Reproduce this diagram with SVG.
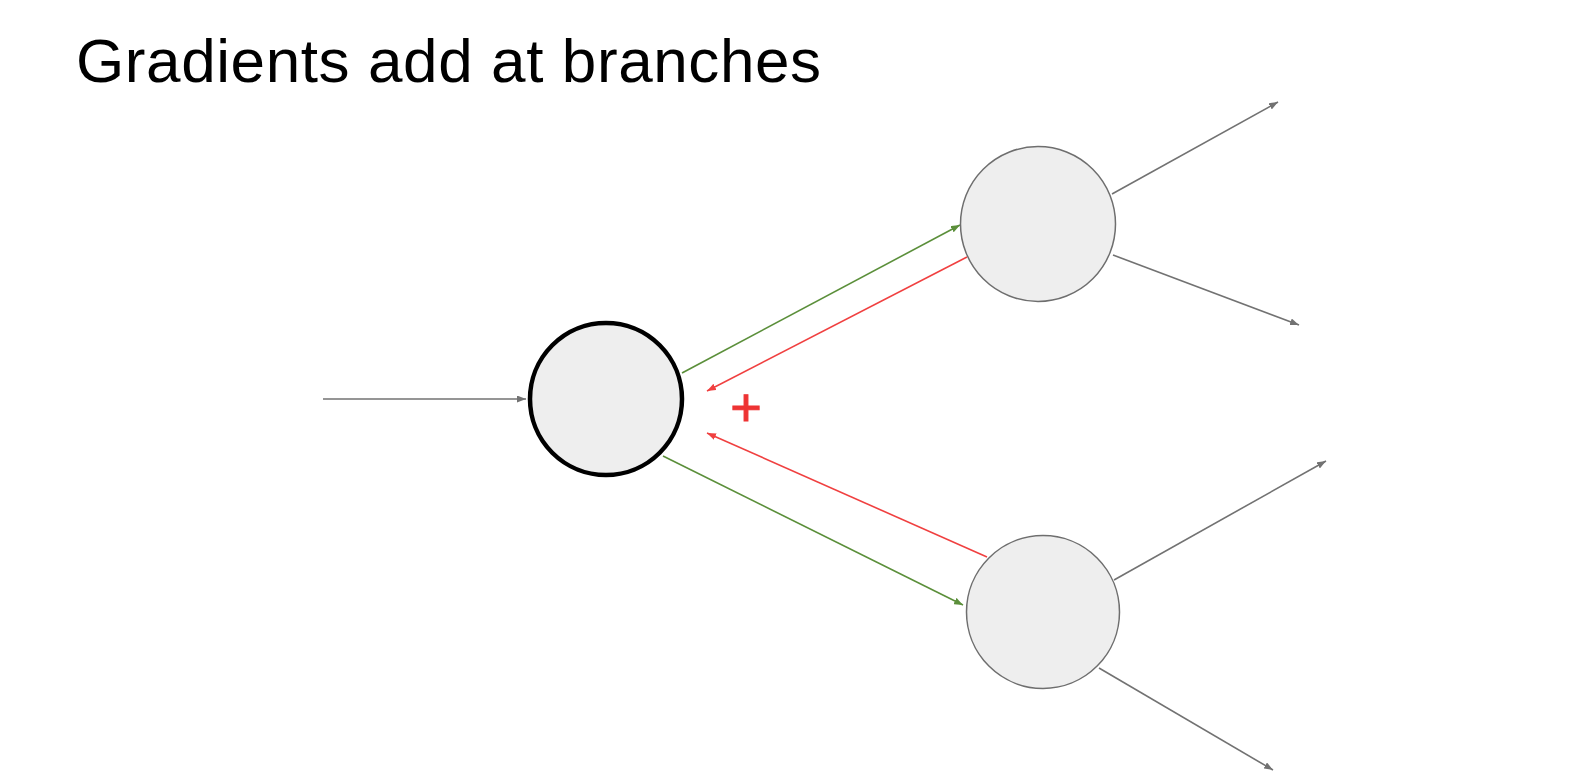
<svg xmlns="http://www.w3.org/2000/svg" width="1580" height="784" viewBox="0 0 1580 784">
  <style>
    .title { font-family: "Liberation Sans", Arial, sans-serif; font-size: 62px; letter-spacing: 0.6px; fill: #000; }
    .plus { font-family: "Liberation Sans", Arial, sans-serif; font-size: 54px; fill: #ee3333; stroke: #ee3333; stroke-width: 1; }
    .node { fill: #eeeeee; stroke: #6e6e6e; stroke-width: 1.5; }
    .node.main { stroke: #000; stroke-width: 4.5; }
    .edge { fill: none; stroke-width: 1.6; }
    .gray { stroke: #727272; }
    .green { stroke: #5b8f3a; }
    .red { stroke: #f04040; }
  </style>
  <defs>
    <marker id="ah-gray" markerWidth="9" markerHeight="7" refX="9" refY="3.5" orient="auto" markerUnits="userSpaceOnUse">
      <path d="M0,0 L9,3.5 L0,7 z" fill="#727272"/>
    </marker>
    <marker id="ah-green" markerWidth="9" markerHeight="7" refX="9" refY="3.5" orient="auto" markerUnits="userSpaceOnUse">
      <path d="M0,0 L9,3.5 L0,7 z" fill="#5b8f3a"/>
    </marker>
    <marker id="ah-red" markerWidth="9" markerHeight="7" refX="9" refY="3.5" orient="auto" markerUnits="userSpaceOnUse">
      <path d="M0,0 L9,3.5 L0,7 z" fill="#f04040"/>
    </marker>
  </defs>

  <rect width="1580" height="784" fill="#ffffff"/>

  <text class="title" x="76" y="82">Gradients add at branches</text>

  <g id="connectors">
    <!-- input into the branching node -->
    <line class="edge gray" x1="323" y1="399" x2="526" y2="399" marker-end="url(#ah-gray)"/>
    <!-- forward pass (green) -->
    <line class="edge green" x1="682" y1="373" x2="960" y2="225" marker-end="url(#ah-green)"/>
    <line class="edge green" x1="663" y1="456" x2="963" y2="605" marker-end="url(#ah-green)"/>
    <!-- backward pass (red) -->
    <line class="edge red" x1="967" y1="257" x2="707" y2="391" marker-end="url(#ah-red)"/>
    <line class="edge red" x1="987" y1="557" x2="707" y2="433" marker-end="url(#ah-red)"/>
    <!-- outgoing edges of the upper node -->
    <line class="edge gray" x1="1112" y1="194" x2="1278" y2="102" marker-end="url(#ah-gray)"/>
    <line class="edge gray" x1="1113" y1="255" x2="1299" y2="325" marker-end="url(#ah-gray)"/>
    <!-- outgoing edges of the lower node -->
    <line class="edge gray" x1="1114" y1="580" x2="1326" y2="461" marker-end="url(#ah-gray)"/>
    <line class="edge gray" x1="1099" y1="668" x2="1273" y2="770" marker-end="url(#ah-gray)"/>
  </g>

  <g id="node-main">
    <circle class="node main" cx="606" cy="399" r="76"/>
  </g>
  <g id="node-upper">
    <circle class="node" cx="1038" cy="224" r="77.5"/>
  </g>
  <g id="node-lower">
    <circle class="node" cx="1043" cy="612" r="76.5"/>
  </g>

  <text class="plus" x="746" y="426" text-anchor="middle">+</text>
</svg>
